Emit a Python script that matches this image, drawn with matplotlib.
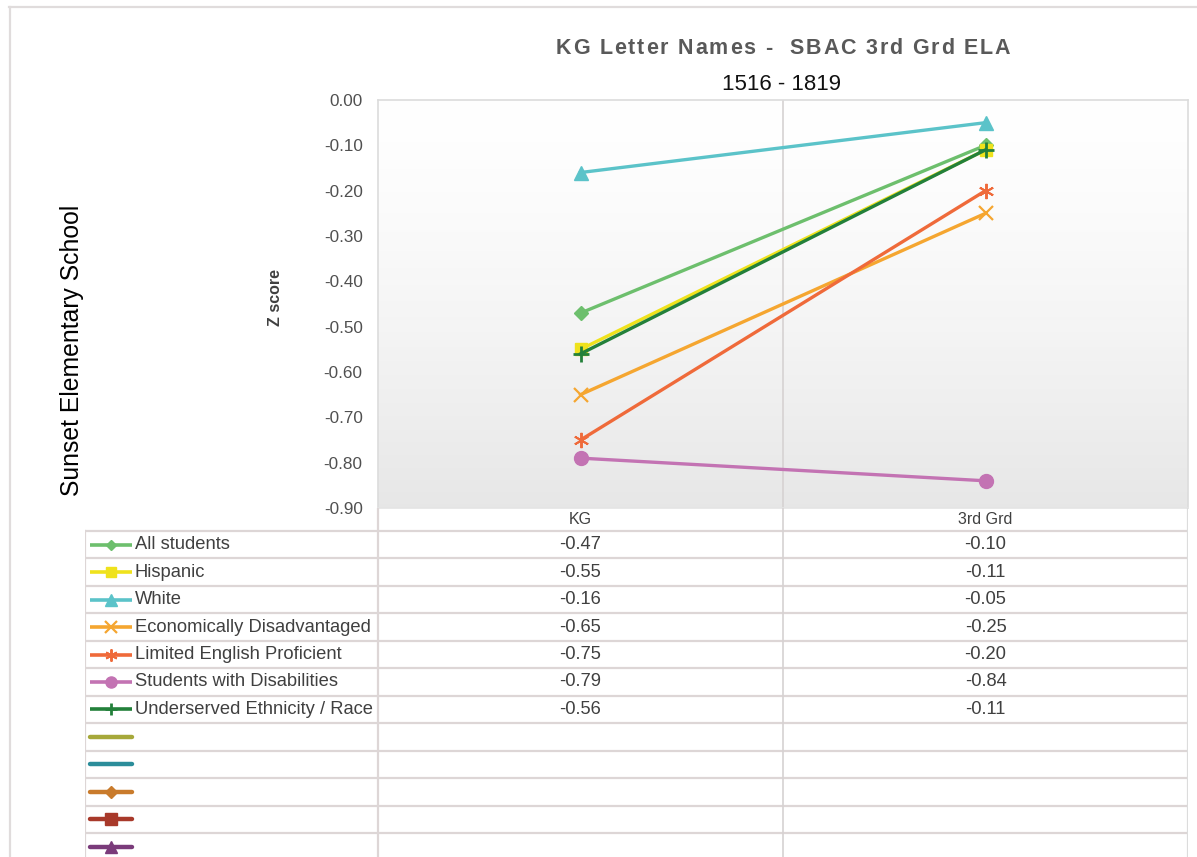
import numpy as np
import matplotlib
matplotlib.use("Agg")
import matplotlib.pyplot as plt
from matplotlib.lines import Line2D
from matplotlib.ticker import FormatStrFormatter

# ---- data -------------------------------------------------------------
categories = ["KG", "3rd Grd"]
groups = [
    "All students",
    "Hispanic",
    "White",
    "Economically Disadvantaged",
    "Limited English Proficient",
    "Students with Disabilities",
    "Underserved Ethnicity / Race",
]
kg_scores = [-0.47, -0.55, -0.16, -0.65, -0.75, -0.79, -0.56]
grade3_scores = [-0.10, -0.11, -0.05, -0.25, -0.20, -0.84, -0.11]
y_ticks = [0.0, -0.1, -0.2, -0.3, -0.4, -0.5, -0.6, -0.7, -0.8, -0.9]

# ---- styling ----------------------------------------------------------
group_colors = ["#6dbf6d", "#efe21c", "#5bc3c9", "#f5a630", "#ef6a3a", "#c373b3", "#23803a"]
group_markers = ["D", "s", "^", "x", (6, 2, 0), "o", "+"]
group_msize = [7, 9, 10, 10, 11, 10, 11]
group_mew = [1, 1, 1, 1.6, 1.4, 1, 2]
# unused series slots (legend keys only)
empty_colors = ["#a6a83a", "#2b8d9a", "#c97b2c", "#a8392a", "#7a3b7a"]
empty_markers = [None, None, "D", "s", "^"]
empty_msize = [0, 0, 6.5, 8, 9]

W, H, DPI = 1197, 857, 100
REG = ["Liberation Sans", "DejaVu Sans"]
GRID = "#ddd6d6"

fig = plt.figure(figsize=(W / DPI, H / DPI), dpi=DPI)
fig.patch.set_facecolor("white")


def fx(px):
    return px / W


def fy(py):
    return 1 - py / H


# plot-area geometry in pixels
PL, PR, PT, PB = 378, 1188, 100, 508
TL = 85
ax = fig.add_axes([fx(PL), fy(PB), fx(PR - PL), (PB - PT) / H])
ax.set_xlim(-0.5, 1.5)
ax.set_ylim(-0.9, 0.0)

# soft vertical gradient in the plot area (white at top, light grey at bottom)
ramp = np.linspace(0, 1, 256) ** 1.4
shade = 1.0 - 0.095 * ramp
shade2d = np.repeat(shade[:, None], 2, axis=1)
img = np.dstack([shade2d, shade2d, shade2d])
ax.imshow(img, extent=(-0.5, 1.5, -0.9, 0.0), origin="upper", aspect="auto",
          interpolation="bilinear", zorder=0)

for s in ax.spines.values():
    s.set_color("#dcdcdc")
    s.set_linewidth(1.2)
ax.spines["bottom"].set_color("#e4e4e4")

ax.axvline(0.5, color="#d6d2d2", lw=1.2, zorder=1)

ax.set_yticks(y_ticks)
ax.yaxis.set_major_formatter(FormatStrFormatter("%.2f"))
ax.tick_params(axis="y", length=0, pad=11, labelsize=12.3, labelcolor="#505050")
for lab in ax.get_yticklabels():
    lab.set_fontfamily(REG)
ax.set_xticks([0, 1], categories)
ax.tick_params(axis="x", length=0, pad=3, labelsize=11.5, labelcolor="#404040")
for lab in ax.get_xticklabels():
    lab.set_fontfamily(REG)

xs = np.arange(len(categories))
for i, name in enumerate(groups):
    ax.plot(xs, [kg_scores[i], grade3_scores[i]], color=group_colors[i], lw=2.4,
            marker=group_markers[i], ms=group_msize[i], mew=group_mew[i],
            mec=group_colors[i], mfc=group_colors[i], zorder=3 + i, clip_on=False)

# ---- data table -------------------------------------------------------
ROW0, ROWH = 531, 27.45
unit = (PR - PL) / 2.0
x_left = -0.5 - (PL - TL) / unit
tab = fig.add_axes([fx(TL), 0, fx(PR - TL), (H - PB) / H])
tab.set_xlim(x_left, 1.5)
tab.set_ylim((H - ROW0) / ROWH, (PB - ROW0) / ROWH)
tab.axis("off")

n_rows = len(groups) + len(empty_colors)
for k in range(n_rows + 1):
    tab.plot([x_left, 1.5], [k, k], color=GRID, lw=1.6, solid_capstyle="butt")
top_r = (PB - ROW0) / ROWH
bot_r = (H - ROW0) / ROWH
tab.plot([x_left, x_left], [0, bot_r], color=GRID, lw=1.6)
tab.plot([-0.5, -0.5], [top_r, bot_r], color=GRID, lw=1.6)
tab.plot([0.5, 0.5], [top_r, bot_r], color="#d6d2d2", lw=1.2)
tab.plot([1.5, 1.5], [top_r, bot_r], color="#dcdcdc", lw=1.6)

key_x0 = x_left + 5 / unit
key_x1 = x_left + 47 / unit
key_xm = (key_x0 + key_x1) / 2
text_x = x_left + 50 / unit
TFS = 13.2

for i, name in enumerate(groups):
    yc = i + 0.5
    tab.plot([key_x0, key_x1], [yc, yc], color=group_colors[i], lw=2.6, solid_capstyle="butt")
    tab.plot([key_xm], [yc], marker=group_markers[i], ms=group_msize[i] * 0.8,
             mew=group_mew[i], color=group_colors[i])
    tab.text(text_x, yc, name, ha="left", va="center", fontsize=TFS,
             color="#404040", family=REG)
    tab.text(0, yc, f"{kg_scores[i]:.2f}", ha="center", va="center", fontsize=TFS,
             color="#404040", family=REG)
    tab.text(1, yc, f"{grade3_scores[i]:.2f}", ha="center", va="center", fontsize=TFS,
             color="#404040", family=REG)

for j, c in enumerate(empty_colors):
    yc = len(groups) + j + 0.5
    tab.plot([key_x0, key_x1], [yc, yc], color=c, lw=3.2, solid_capstyle="round")
    if empty_markers[j] is not None:
        tab.plot([key_xm], [yc], marker=empty_markers[j], ms=empty_msize[j], color=c)

# ---- outer frame ------------------------------------------------------
fig.add_artist(Line2D([fx(9.5), fx(9.5)], [fy(7), 0], color="#e0dcdc", lw=1.6))
fig.add_artist(Line2D([fx(9), 1], [fy(7), fy(7)], color="#e0dcdc", lw=1.6))

# ---- titles -----------------------------------------------------------
renderer = fig.canvas.get_renderer()


def text_width(s, **kw):
    t = fig.text(0, 0, s, **kw)
    w = t.get_window_extent(renderer).width
    t.remove()
    return w


def spaced_title(cx, cy, s, spacing, **kw):
    bar = text_width("|", **kw)
    full = text_width(s, **kw) + spacing * (len(s) - 1)
    x0 = cx - full / 2
    for i, ch in enumerate(s):
        if ch == " ":
            continue
        pre = text_width(s[:i] + "|", **kw) - bar if i else 0
        fig.text(fx(x0 + pre + i * spacing), fy(cy), ch, ha="left", va="center", **kw)


spaced_title(783, 48, "KG Letter Names -  SBAC 3rd Grd ELA", 1.8,
             fontsize=15.5, fontweight="bold", color="#595959", family=REG)
fig.text(fx(782), fy(85), "1516 - 1819", ha="center", va="center", fontsize=16,
         color="#111111", family=REG)
fig.text(fx(72), fy(350), "Sunset Elementary School", rotation=90, ha="center",
         va="center", fontsize=17.8, color="#000000", family=REG)
fig.text(fx(275), fy(298), "Z score", rotation=90, ha="center", va="center",
         fontsize=11.5, fontweight="bold", color="#404040", family=REG)

fig.savefig("out.png", dpi=DPI, facecolor="white")
